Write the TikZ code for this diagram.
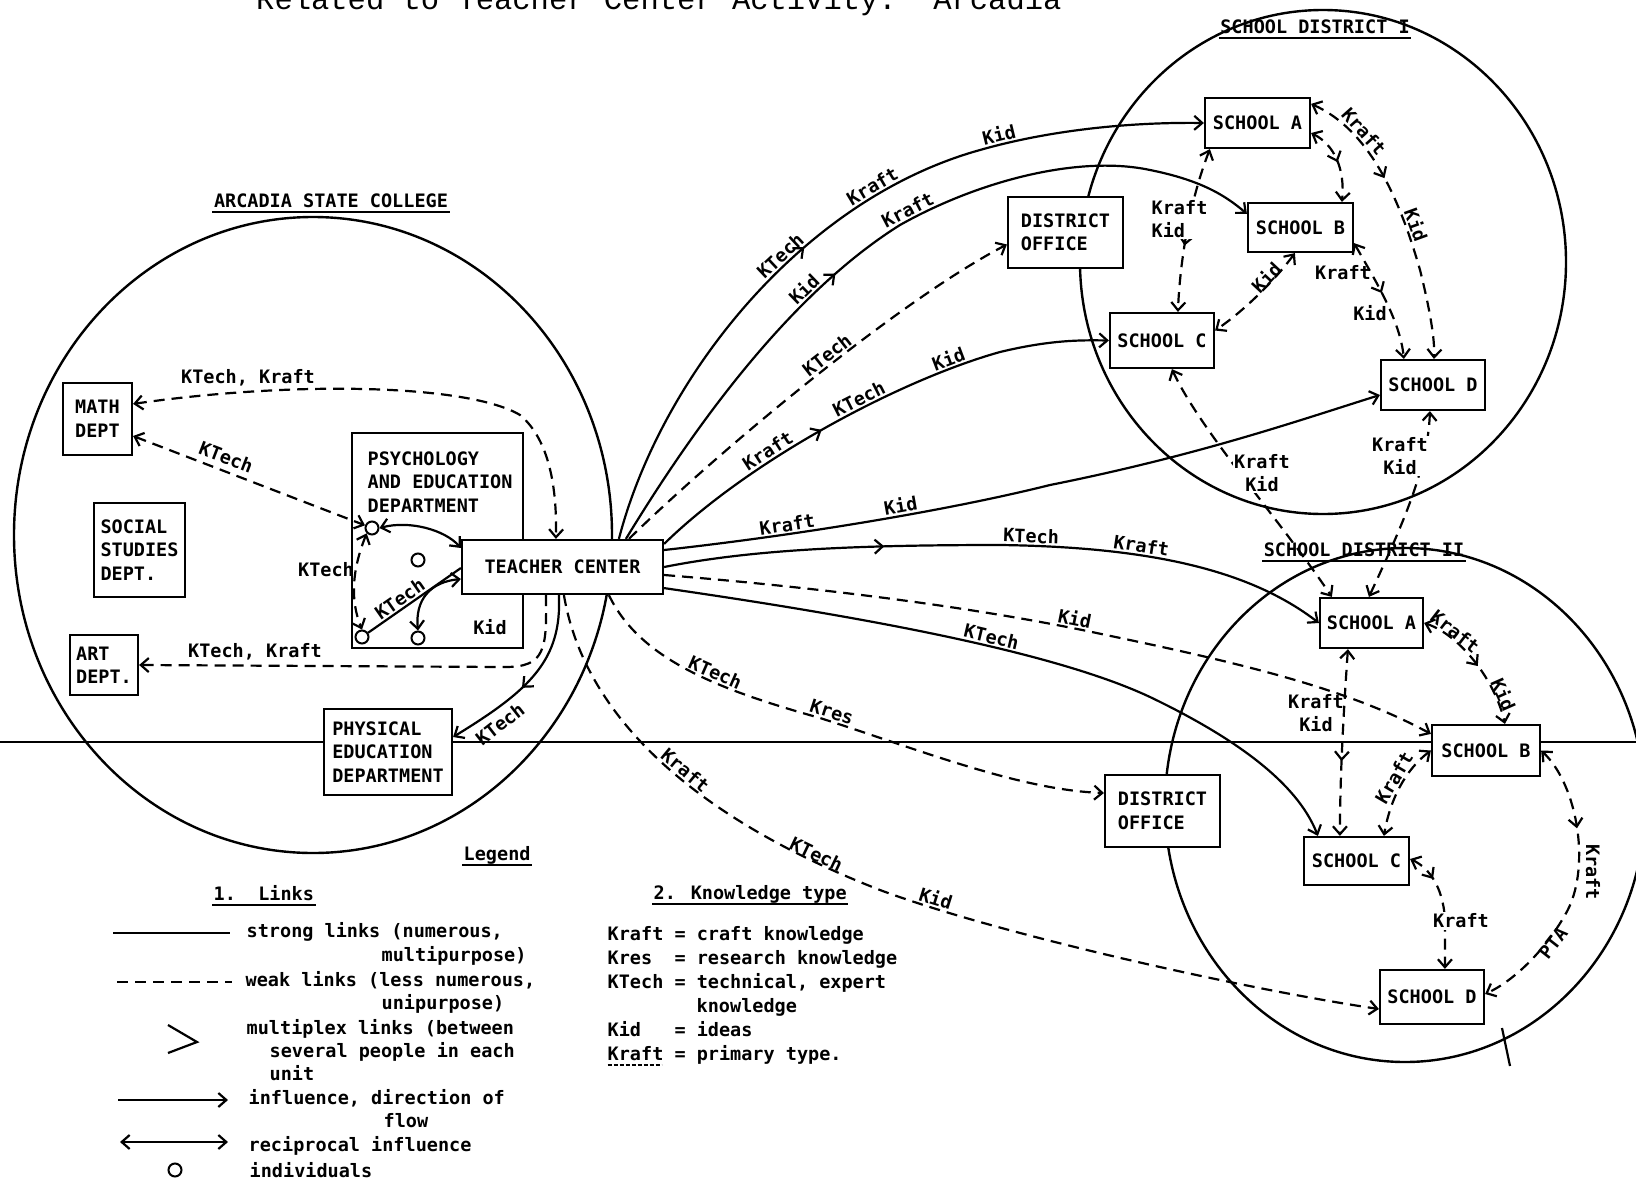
\documentclass[tikz,border=0pt]{standalone}
\usepackage{fontspec}
\usetikzlibrary{arrows.meta,calc,decorations.markings}
\newfontfamily\lblfamily{DejaVu Sans Mono}
\newfontfamily\ttlfamily{Liberation Mono}
\newcommand{\lblf}{\lblfamily\bfseries\fontsize{18.5}{23.5}\selectfont}
\tikzset{
  ln/.style={line width=2.2pt},
  wk/.style={line width=2.2pt, dash pattern=on 11pt off 7pt},
  midarw/.style={postaction={decorate},decoration={markings,mark=at position #1 with {\arrow{>}}}},
  box/.style={draw, line width=2.2pt, fill=white, inner sep=0pt, align=left, font=\lblf},
  lbl/.style={font=\lblf, inner sep=1.5pt},
  lblw/.style={font=\lblf, inner sep=1.5pt, fill=white},
  indiv/.style={circle, draw, line width=2pt, minimum size=13pt, inner sep=0pt},
  uline/.style={line width=1.8pt},
  area/.style={line width=2.4pt},
}
\begin{document}
\begin{tikzpicture}[x=1pt,y=-1pt,>={Straight Barb[length=8pt,width=14pt]}]
\useasboundingbox (0,0) rectangle (1636,1186);

% title (cut off at the top edge)
\node[anchor=base west, font=\ttlfamily\fontsize{30.5}{31}\selectfont, inner sep=0pt] (title) at (256,9) {Related to Teacher Center Activity:\ \ Arcadia};

% scan line across the page
\draw[line width=1.3pt] (0,742) -- (1636,742);

% group areas
\draw[area] (313,535) ellipse [x radius=299, y radius=318];
\draw[area] (1323,262) ellipse [x radius=243, y radius=252];
\draw[area] (1405,805) ellipse [x radius=240, y radius=257];
\draw[ln] (1502,1028) -- (1510,1066);

% group titles
\node[lbl, anchor=base] (asc) at (331,207) {ARCADIA STATE COLLEGE};
\draw[uline] ($(asc.base west)+(0,5)$) -- ($(asc.base east)+(0,5)$);
\node[lbl, anchor=base] (sdI) at (1315,33) {SCHOOL DISTRICT I};
\draw[uline] ($(sdI.base west)+(0,5)$) -- ($(sdI.base east)+(0,5)$);
\node[lbl, anchor=base] (sdII) at (1364,556) {SCHOOL DISTRICT II};
\draw[uline] ($(sdII.base west)+(0,5)$) -- ($(sdII.base east)+(0,5)$);

% college units
\node[box, minimum width=69pt, minimum height=72pt] (math) at (97.5,419) {MATH\\DEPT};
\node[box, minimum width=91pt, minimum height=94pt] (social) at (139.5,550) {SOCIAL\\STUDIES\\DEPT.};
\node[box, minimum width=68pt, minimum height=60pt] (art) at (104,665) {ART\\DEPT.};
\node[box, minimum width=171pt, minimum height=215pt] (psych) at (437.5,540.5) {};
\node[lbl, anchor=north west, align=left] (psychtxt) at (366,450) {PSYCHOLOGY\\AND EDUCATION\\DEPARTMENT};
\node[box, minimum width=201pt, minimum height=54pt] (tc) at (562.5,567) {TEACHER CENTER};
\node[box, minimum width=128pt, minimum height=86pt] (pe) at (388,752) {PHYSICAL\\EDUCATION\\DEPARTMENT};

% district units
\node[box, minimum width=115pt, minimum height=71pt] (doI) at (1065.5,232.5) {DISTRICT\\OFFICE};
\node[box, minimum width=105pt, minimum height=50pt] (aI) at (1257.5,123) {SCHOOL A};
\node[box, minimum width=105pt, minimum height=49pt] (bI) at (1300.5,227.5) {SCHOOL B};
\node[box, minimum width=104pt, minimum height=55pt] (cI) at (1162,340.5) {SCHOOL C};
\node[box, minimum width=104pt, minimum height=50pt] (dI) at (1433,385) {SCHOOL D};
\node[box, minimum width=115pt, minimum height=72pt] (doII) at (1162.5,811) {DISTRICT\\OFFICE};
\node[box, minimum width=103pt, minimum height=50pt] (aII) at (1371.5,623) {SCHOOL A};
\node[box, minimum width=108pt, minimum height=51pt] (bII) at (1486,750.5) {SCHOOL B};
\node[box, minimum width=105pt, minimum height=48pt] (cII) at (1356.5,861) {SCHOOL C};
\node[box, minimum width=104pt, minimum height=54pt] (dII) at (1432,997) {SCHOOL D};

% individuals
\node[indiv] (i1) at (372,528) {};
\node[indiv] (i2) at (418,560) {};
\node[indiv] (i3) at (362,637) {};
\node[indiv] (i4) at (418,638) {};

% ---- links inside the college
\draw[wk, <->] ($(math.north east)+(0,22)$) .. controls (300,380) and (470,385) .. (520,415) .. controls (550,440) and (557,490) .. ($(tc.north west)+(95,0)$);
\node[lbl] (l1) at (248,378) {KTech, Kraft};
\draw[wk, <->] ($(math.east)+(0,17)$) -- (i1) node[lbl, sloped, above=4pt, pos=0.38] {KTech};
\draw[wk, ->] ($(tc.south west)+(85,0)$) .. controls (547,650) and (545,667) .. (505,667) -- (art.east);
\node[lbl] (l2) at (255,652) {KTech, Kraft};
\draw[ln, ->, midarw=0.55] ($(tc.south west)+(98,0)$) .. controls (562,660) and (530,690) .. ($(pe.east)+(0,-15)$);
\node[lbl, rotate=38] (l3) at (500,724) {KTech};
\draw[ln, <->] (i1.east) .. controls (410,520) and (445,530) .. ($(tc.west)+(0,-19)$);
\draw[ln] (i3) -- ($(tc.west)+(0,1)$) node[lbl, sloped, above, pos=0.4] {KTech};
\draw[ln, <->] (i4.north) .. controls (415,600) and (430,582) .. ($(tc.west)+(0,12)$);
\draw[wk, <->] (i1.south west) .. controls (352,570) and (350,600) .. (i3.north);
\node[lbl] (l4) at (326,570) {KTech};
\node[lbl] (l5) at (490,627) {Kid};

% ---- links from the teacher center to district I
\draw[ln, ->, midarw=0.45] ($(tc.north west)+(158,0)$) .. controls (660,380) and (800,200) .. (980,150)
   node[lbl, sloped, above, pos=0.6] {KTech} node[lbl, sloped, above, pos=0.8] {Kraft}
   .. controls (1050,130) and (1130,122) .. (aI.west) node[lbl, sloped, above, pos=0.1] {Kid};
\draw[ln, ->, midarw=0.43] ($(tc.north west)+(165,0)$) .. controls (680,450) and (780,300) .. (900,225)
   node[lbl, sloped, above, pos=0.74] {Kid}
   .. controls (980,180) and (1080,155) .. (1150,170) node[lbl, sloped, above, pos=0.05] {Kraft}
   .. controls (1200,180) and (1225,195) .. ($(bI.north west)+(0,12)$);
\draw[wk, ->] ($(tc.north west)+(168,0)$) .. controls (720,450) and (900,300) .. ($(doI.west)+(0,12)$) node[lbl, sloped, above, pos=0.55] {KTech};
\draw[ln, ->, midarw=0.39] ($(tc.north east)+(0,5)$) .. controls (750,460) and (900,380) .. (1000,352)
   node[lbl, sloped, above, pos=0.35] {Kraft} node[lbl, sloped, above, pos=0.6] {KTech} node[lbl, sloped, above, pos=0.85] {Kid}
   .. controls (1050,340) and (1080,340) .. (cI.west);
\draw[ln, ->] ($(tc.east)+(0,-17)$) .. controls (800,535) and (950,510) .. (1050,485)
   node[lbl, sloped, above, pos=0.3] {Kraft} node[lbl, sloped, above, pos=0.58] {Kid}
   .. controls (1200,455) and (1300,420) .. ($(dI.west)+(0,10)$);

% ---- links from the teacher center to district II
\draw[ln, ->, midarw=0.33] (tc.east) .. controls (750,550) and (850,545) .. (1000,545)
   .. controls (1150,547) and (1250,570) .. (aII.west) node[lbl, sloped, above, pos=0.07] {KTech} node[lbl, sloped, above, pos=0.35] {Kraft};
\draw[wk, ->] ($(tc.east)+(0,8)$) .. controls (850,590) and (1000,612) .. (1106,635) node[lbl, sloped, above, pos=0.9] {Kid}
   .. controls (1250,665) and (1350,690) .. ($(bII.north west)+(0,10)$);
\draw[ln, ->] ($(tc.south east)+(0,-7)$) .. controls (850,615) and (1050,650) .. (1150,697) node[lbl, sloped, above, pos=0.6] {KTech}
   .. controls (1250,745) and (1300,790) .. ($(cII.north west)+(15,0)$);
\draw[wk, ->] ($(tc.south west)+(148,0)$) .. controls (640,660) and (720,690) .. (820,718) node[lbl, sloped, above, pos=0.6] {KTech}
   .. controls (920,750) and (1020,790) .. ($(doII.west)+(0,-18)$) node[lbl, sloped, above, pos=0.03] {Kres};
\draw[wk, ->] ($(tc.south west)+(103,0)$) .. controls (585,720) and (700,820) .. (880,890)
   node[lbl, sloped, above, pos=0.55] {Kraft} node[lbl, sloped, above=-2pt, pos=0.87] {KTech}
   .. controls (1000,935) and (1250,990) .. ($(dII.west)+(0,12)$) node[lbl, sloped, above, pos=0.13] {Kid};

% ---- links within district I
\draw[wk, <->, midarw=0.6] ($(aI.south west)+(6,0)$) .. controls (1190,200) and (1180,260) .. ($(cI.north west)+(69,0)$);
\node[lblw, align=left, anchor=west] (l6) at (1150,219) {Kraft\\Kid};
\draw[wk, <->, midarw=0.5] ($(aI.east)+(0,10)$) .. controls (1335,145) and (1345,170) .. ($(bI.north west)+(95,0)$);
\draw[wk, <->, midarw=0.36] ($(aI.north east)+(0,7)$) .. controls (1370,130) and (1400,200) .. (1420,270)
   node[lbl, sloped, above, pos=0.3] {Kraft} node[lbl, sloped, above, pos=0.8] {Kid}
   .. controls (1430,310) and (1435,340) .. ($(dI.north west)+(54,0)$);
\draw[wk, <->] ($(bI.south west)+(48,0)$) .. controls (1275,280) and (1245,310) .. ($(cI.east)+(0,-10)$) node[lbl, sloped, above=-4pt, pos=0.35] {Kid};
\draw[wk, <->, midarw=0.45] ($(bI.south east)+(0,-10)$) .. controls (1375,280) and (1400,320) .. ($(dI.north west)+(24,0)$);
\node[lbl] (l7) at (1343,273) {Kraft};
\node[lbl] (l8) at (1370,313) {Kid};
\draw[wk, <->] ($(cI.south west)+(63,0)$) .. controls (1200,430) and (1280,520) .. ($(aII.north west)+(13,0)$);
\node[lblw, align=center] (l9) at (1262,473) {Kraft\\Kid};
\draw[wk, <->] ($(dI.south west)+(50,0)$) .. controls (1428,470) and (1400,530) .. ($(aII.north west)+(50,0)$);
\node[lblw, align=center] (l10) at (1400,456) {Kraft\\Kid};

% ---- links within district II
\draw[wk, <->, midarw=0.52] (aII.east) .. controls (1460,635) and (1495,680) .. ($(bII.north west)+(74,0)$)
   node[lbl, sloped, above=-2pt, pos=0.25] {Kraft} node[lbl, sloped, above=-2pt, pos=0.8] {Kid};
\draw[wk, <->, midarw=0.6] ($(aII.south west)+(29,0)$) .. controls (1343,720) and (1340,780) .. ($(cII.north west)+(37,0)$);
\node[lbl, align=center] (l11) at (1316,713) {Kraft\\Kid};
\draw[wk, <->] (bII.west) .. controls (1405,770) and (1390,800) .. ($(cII.north west)+(81,0)$) node[lbl, sloped, above, pos=0.45] {Kraft};
\draw[wk, <->, midarw=0.3] (bII.east) .. controls (1578,785) and (1592,870) .. (1565,915) .. controls (1545,950) and (1515,980) .. ($(dII.east)+(0,-3)$);
\node[lbl, rotate=-90] (l12) at (1593,872) {Kraft};
\node[lbl, rotate=52] (l13) at (1553,943) {PTA};
\draw[wk, <->, midarw=0.25] ($(cII.east)+(0,-2)$) .. controls (1430,868) and (1445,890) .. (1445,925) -- ($(dII.north west)+(66,0)$);
\node[lblw] (l14) at (1461,921) {Kraft};

% ---- legend
\node[lbl, anchor=base west] (lg) at (462,860) {Legend};
\draw[uline] ($(lg.base west)+(0,5)$) -- ($(lg.base east)+(0,5)$);
\node[lbl, anchor=base west] (lk) at (212,900) {1.\ \ Links};
\draw[uline] ($(lk.base west)+(0,5)$) -- ($(lk.base east)+(0,5)$);
\coordinate (s1a) at (113,933); \coordinate (s1b) at (230,933);
\draw[ln] (s1a) -- (s1b);
\coordinate (s2a) at (117,982); \coordinate (s2b) at (232,982);
\draw[wk] (s2a) -- (s2b);
\coordinate (s3a) at (168,1025); \coordinate (s3b) at (197,1042); \coordinate (s3c) at (168,1053);
\draw[ln] (s3a) -- (s3b) -- (s3c);
\coordinate (s4a) at (118,1100); \coordinate (s4b) at (228,1100);
\draw[ln, ->] (s4a) -- (s4b);
\coordinate (s5a) at (120,1142); \coordinate (s5b) at (228,1142);
\draw[ln, <->] (s5a) -- (s5b);
\node[indiv] (indleg) at (175,1170) {};
\node[lbl, anchor=base west] (t1) at (245,937) {strong links (numerous,};
\node[lbl, anchor=base west] (t2) at (380,961) {multipurpose)};
\node[lbl, anchor=base west] (t3) at (244,986) {weak links (less numerous,};
\node[lbl, anchor=base west] (t4) at (380,1009) {unipurpose)};
\node[lbl, anchor=base west] (t5) at (245,1034) {multiplex links (between};
\node[lbl, anchor=base west] (t6) at (268,1057) {several people in each};
\node[lbl, anchor=base west] (t7) at (268,1080) {unit};
\node[lbl, anchor=base west] (t8) at (247,1104) {influence, direction of};
\node[lbl, anchor=base west] (t9) at (382,1127) {flow};
\node[lbl, anchor=base west] (t10) at (247,1151) {reciprocal influence};
\node[lbl, anchor=base west] (t11) at (248,1177) {individuals};

\node[lbl, anchor=base west] (kh) at (652,899) {2. Knowledge type};
\draw[uline] ($(kh.base west)+(0,5)$) -- ($(kh.base east)+(0,5)$);
\node[lbl, anchor=base west] (k1) at (606,940) {Kraft = craft knowledge};
\node[lbl, anchor=base west] (k2) at (606,964) {Kres\ \ = research knowledge};
\node[lbl, anchor=base west] (k3) at (606,988) {KTech = technical, expert};
\node[lbl, anchor=base west] (k4) at (695,1012) {knowledge};
\node[lbl, anchor=base west] (k5) at (606,1036) {Kid\ \ \ = ideas};
\node[lbl, anchor=base west] (k6) at (606,1060) {Kraft = primary type.};
\draw[uline, dash pattern=on 4pt off 2pt] ($(k6.base west)+(1.5,5)$) -- ++(54,0);
\end{tikzpicture}
\end{document}
